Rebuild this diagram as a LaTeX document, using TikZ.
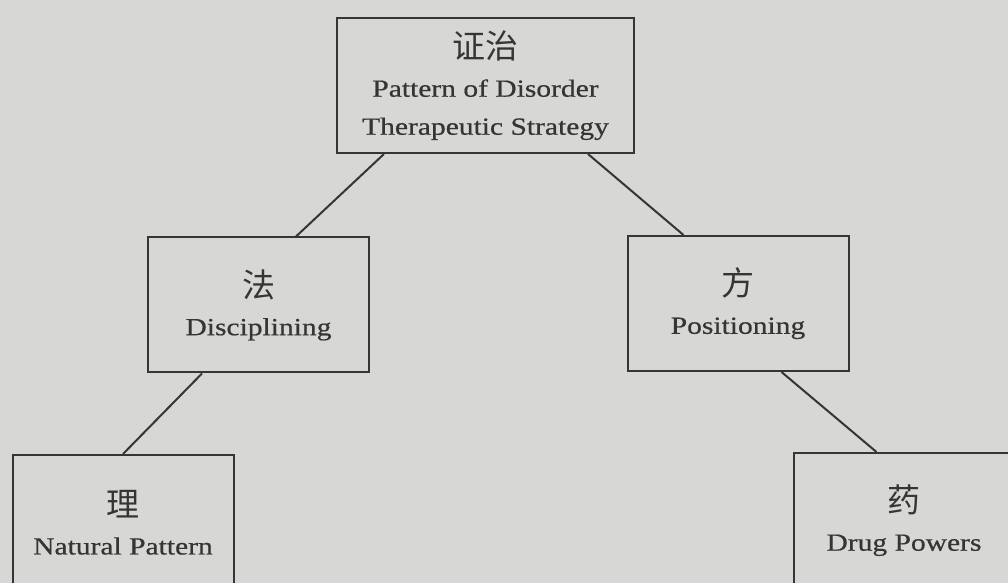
\documentclass[tikz,border=0pt]{standalone}
\usepackage{fontspec}
\setmainfont{Liberation Serif}[FakeStretch=1.2,FakeBold=0.6]
\newfontfamily\cjk{Noto Sans CJK SC}
\usepackage{xcolor}
\usepackage{tikz}
\definecolor{paper}{HTML}{D7D7D5}
\definecolor{ink}{HTML}{353535}
\tikzset{
  conceptbox/.style={
    draw=ink,
    line width=1pt,
    fill=paper,
    text=ink,
    align=center,
    font=\fontsize{12.3}{19}\selectfont,
    inner sep=0pt,
    minimum height=67.5pt,
    minimum width=110.5pt
  },
  wide/.style={minimum width=148.5pt},
  link/.style={draw=ink, line width=1pt}
}
\newcommand{\zi}[1]{{\cjk\fontsize{16.5}{19}\selectfont #1}}

\begin{document}
\begin{tikzpicture}[x=0.5pt,y=0.5pt]
\useasboundingbox (0,0) rectangle (1008,583);
\fill[paper] (0,0) rectangle (1008,583);
\clip (0,0) rectangle (1008,583);

\node[conceptbox, wide] (zhengzhi) at (485.5,497.5) {\zi{证治}\\Pattern of Disorder\\Therapeutic Strategy};

\node[conceptbox] (fa) at (258.5,278) {\zi{法}\\Disciplining};
\node[conceptbox] (fang) at (738,279.5) {\zi{方}\\Positioning};

\node[conceptbox] (li) at (123,60.5) {\zi{理}\\Natural Pattern};
\node[conceptbox] (yao) at (904,62.5) {\zi{药}\\Drug Powers};

\draw[link] ([xshift=24pt]zhengzhi.south west) -- ([xshift=-37pt]fa.north east);
\draw[link] ([xshift=-23.5pt]zhengzhi.south east) -- ([xshift=28.5pt]fang.north west);
\draw[link] ([xshift=27.5pt]fa.south west) -- (li.north);
\draw[link] ([xshift=-34pt]fang.south east) -- ([xshift=42pt]yao.north west);

\end{tikzpicture}
\end{document}
